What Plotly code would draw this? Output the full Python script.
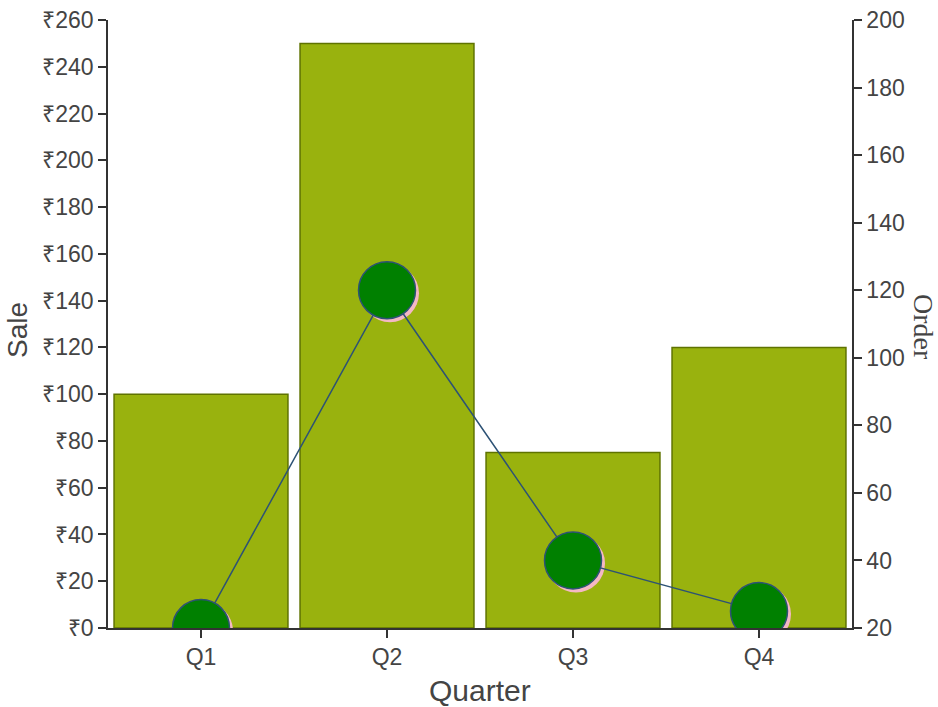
import plotly.graph_objects as go

quarters = ["Q1", "Q2", "Q3", "Q4"]
sales = [100, 250, 75, 120]
orders = [20, 120, 40, 25]

W, H = 938, 707
ML, MR, MT, MB = 108, 86, 20, 79
plot_w = W - ML - MR
plot_h = H - MT - MB

sale_range = [0, 260]
order_range = [20, 200]
x_range = [-0.5, 3.5]

# shadow offset (pixels) for the marker "drop shadow"
sh_px = 3
dx = sh_px * (x_range[1] - x_range[0]) / plot_w
dy = sh_px * (order_range[1] - order_range[0]) / plot_h

tick_font = dict(family="Liberation Sans, Arial, sans-serif", size=23, color="#444")

fig = go.Figure()

fig.add_trace(go.Bar(
    x=quarters, y=sales, xaxis="x", yaxis="y",
    marker=dict(color="#99b20e", line=dict(color="#5f7300", width=1.5)),
    width=0.935, showlegend=False, hoverinfo="x+y",
))

# invisible helper so the right (Order) axis is drawn
fig.add_trace(go.Scatter(
    x=quarters, y=orders, xaxis="x", yaxis="y2", mode="markers",
    marker=dict(size=1, opacity=0), showlegend=False, hoverinfo="skip",
))

# shadow of markers
fig.add_trace(go.Scatter(
    x=quarters, y=orders, xaxis="x2", yaxis="y3", mode="markers",
    marker=dict(size=58, color="#f4b8c4", line=dict(width=0)),
    showlegend=False, hoverinfo="skip",
))

# main line + markers
fig.add_trace(go.Scatter(
    x=quarters, y=orders, xaxis="x3", yaxis="y4", mode="lines+markers",
    line=dict(color="#2d5275", width=1.5),
    marker=dict(size=57, color="#008000", line=dict(color="#2d5275", width=1.5)),
    showlegend=False,
))

axis_common = dict(showgrid=False, zeroline=False, showline=True, linecolor="#333",
                   linewidth=1.5, ticks="outside", ticklen=8, tickcolor="#333",
                   tickwidth=1.5, tickfont=tick_font)

fig.update_layout(
    width=W, height=H,
    margin=dict(l=ML, r=MR, t=MT, b=MB, pad=0, autoexpand=False),
    paper_bgcolor="white", plot_bgcolor="rgba(0,0,0,0)",
    xaxis=dict(type="category", categoryorder="array", categoryarray=quarters,
               range=x_range, **axis_common),
    yaxis=dict(range=sale_range, dtick=20, tick0=0, tickprefix="₹",
               side="left", **axis_common),
    yaxis2=dict(range=order_range, dtick=20, tick0=20, overlaying="y",
                side="right", anchor="x", **axis_common),
    xaxis2=dict(type="category", categoryorder="array", categoryarray=quarters,
                range=[x_range[0] - dx, x_range[1] - dx], overlaying="x",
                visible=False, anchor="y3"),
    yaxis3=dict(range=[order_range[0] + dy, order_range[1] + dy], overlaying="y",
                visible=False, anchor="x2"),
    xaxis3=dict(type="category", categoryorder="array", categoryarray=quarters,
                range=x_range, overlaying="x", visible=False, anchor="y4"),
    yaxis4=dict(range=order_range, overlaying="y", visible=False, anchor="x3"),
    bargap=0.065,
    annotations=[
        dict(text="Sale", xref="paper", yref="paper", x=0, y=0.5, xshift=-91,
             yshift=-6, textangle=-90, showarrow=False,
             font=dict(family="Liberation Sans, Arial, sans-serif", size=28, color="#444"),
             xanchor="center", yanchor="middle"),
        dict(text="Quarter", xref="paper", yref="paper", x=0.5, y=0, yshift=-62,
             xshift=0, showarrow=False,
             font=dict(family="Liberation Sans, Arial, sans-serif", size=30, color="#444"),
             xanchor="center", yanchor="middle"),
        dict(text="Order", xref="paper", yref="paper", x=1, y=0.5, xshift=72,
             yshift=-3, textangle=90, showarrow=False,
             font=dict(family="Liberation Serif, Times New Roman, serif", size=28, color="#444"),
             xanchor="center", yanchor="middle"),
    ],
)

fig.write_html("out.html", config={"displayModeBar": False},
               post_script="document.body.style.margin='0';")
